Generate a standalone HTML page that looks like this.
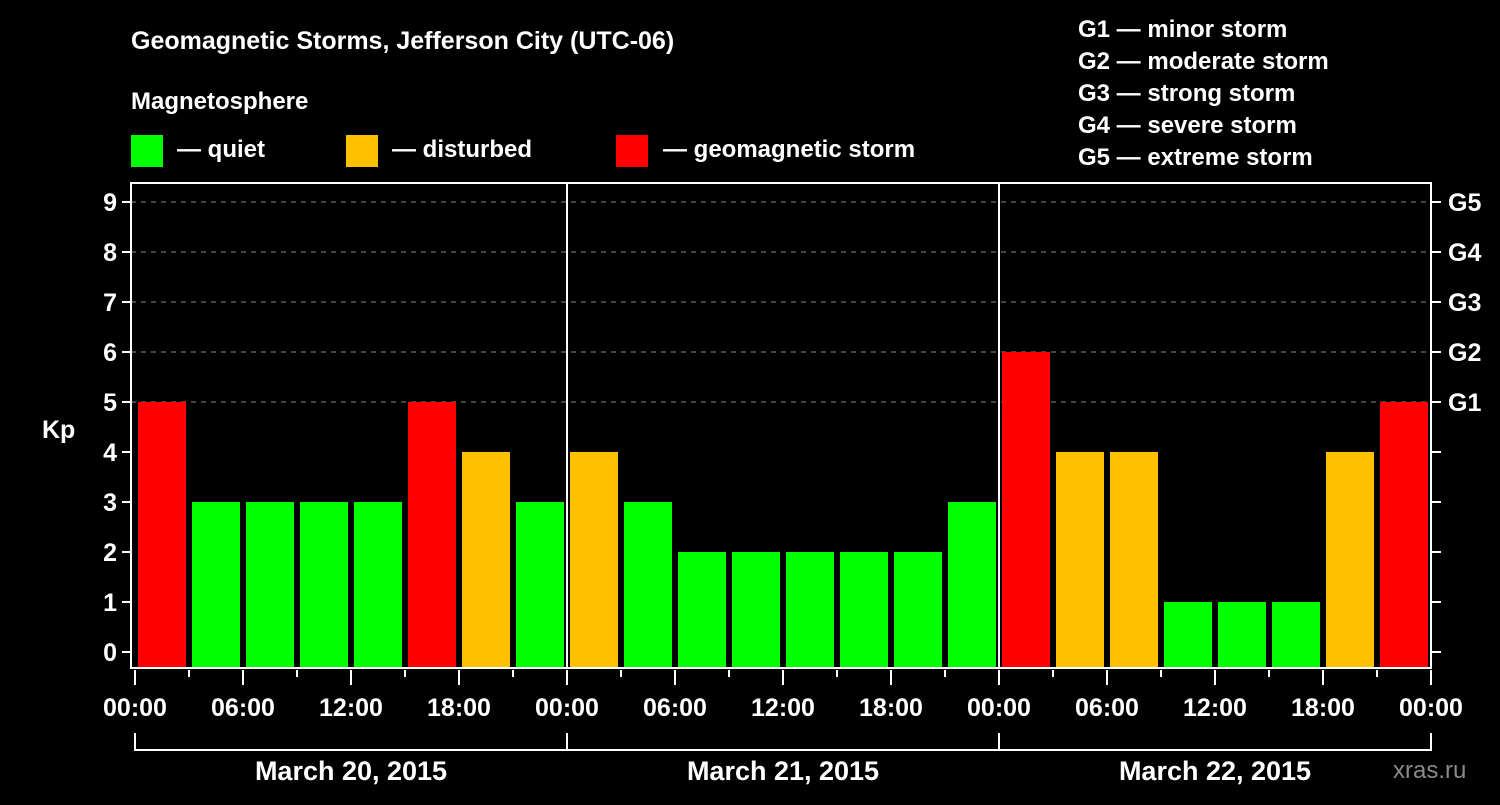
<!DOCTYPE html>
<html><head><meta charset="utf-8"><style>
body{margin:0;background:#000;width:1500px;height:800px;overflow:hidden}
svg text{font-family:"Liberation Sans",sans-serif;font-weight:bold;fill:#fff}
</style></head><body>
<svg id="c" width="1500" height="800">
<rect width="1500" height="800" fill="#000"/>
<text x="131" y="49" font-size="25">Geomagnetic Storms, Jefferson City (UTC-06)</text>
<text x="131" y="109" font-size="24">Magnetosphere</text>
<g><rect x="131" y="135" width="32" height="32" fill="#00ff00"/><text x="177" y="157" font-size="24">— quiet</text></g>
<g><rect x="346" y="135" width="32" height="32" fill="#ffc000"/><text x="392" y="157" font-size="24">— disturbed</text></g>
<g><rect x="616" y="135" width="32" height="32" fill="#ff0000"/><text x="663" y="157" font-size="24">— geomagnetic storm</text></g>
<g font-size="24">
<text x="1078" y="37">G1 — minor storm</text>
<text x="1078" y="69">G2 — moderate storm</text>
<text x="1078" y="101">G3 — strong storm</text>
<text x="1078" y="133">G4 — severe storm</text>
<text x="1078" y="165">G5 — extreme storm</text>
</g>
<text x="42" y="438" font-size="25">Kp</text>
<text x="1393" y="778" font-size="24" fill="#888" style="fill:#8a8a8a;font-weight:normal">xras.ru</text>
<g id="grid"></g><g id="bars"></g><g id="axes"></g>
</svg>
<script>
const days=["March 20, 2015","March 21, 2015","March 22, 2015"];
const kp=[5,3,3,3,3,5,4,3, 4,3,2,2,2,2,2,3, 6,4,4,1,1,1,4,5];
const yTicks=[0,1,2,3,4,5,6,7,8,9];
const gLabels=["G1","G2","G3","G4","G5"];
const xLabels=["00:00","06:00","12:00","18:00"];
const NS="http://www.w3.org/2000/svg";
const X0=135,DAYW=432,L=131,R=1431,T=183,B=668;
const x=h=>X0+h*DAYW/24;
const y=v=>652-50*v;
function mk(p,t,a){const e=document.createElementNS(NS,t);for(const k in a)e.setAttribute(k,a[k]);p.appendChild(e);return e;}
const g=document.getElementById('grid'),b=document.getElementById('bars'),ax=document.getElementById('axes');
yTicks.forEach(v=>{
 if(v>=5){const l=mk(g,'line',{x1:L,x2:R,y1:y(v),y2:y(v),stroke:'#888','stroke-dasharray':'5,5','stroke-width':1});
 
 }
 mk(ax,'line',{x1:L-9,x2:L,y1:y(v),y2:y(v),stroke:'#fff','stroke-width':2});
 mk(ax,'line',{x1:R,x2:R+10,y1:y(v),y2:y(v),stroke:'#fff','stroke-width':2});
 const t=mk(ax,'text',{x:L-14,y:y(v)+9,'font-size':25,'text-anchor':'end'});t.textContent=v;
 
 
});
gLabels.forEach((s,i)=>{const t=mk(ax,'text',{x:1448,y:y(5+i)+9,'font-size':25});t.textContent=s;
 
 });
const col=v=>v>=5?'#ff0000':v>=4?'#ffc000':'#00ff00';
kp.forEach((v,i)=>{const r=mk(b,'rect',{x:x(i*3)+3,y:y(v),width:48,height:B-y(v),fill:col(v)});
 
 });
mk(ax,'rect',{x:L,y:T,width:R-L,height:B-T,fill:'none',stroke:'#fff','stroke-width':2});
for(let d=1;d<days.length;d++)mk(ax,'line',{x1:x(24*d),x2:x(24*d),y1:T,y2:B,stroke:'#fff','stroke-width':2});
for(let h=0;h<=24*days.length;h+=3){
 const long=h%6===0;
 mk(ax,'line',{x1:x(h),x2:x(h),y1:B+2,y2:B+(long?17:9),stroke:'#fff','stroke-width':2});
 if(long){const t=mk(ax,'text',{x:x(h),y:716,'font-size':25,'text-anchor':'middle'});t.textContent=xLabels[(h%24)/6];
 
 }
}
days.forEach((d,i)=>{
 mk(ax,'path',{d:`M${x(24*i)},733V750H${x(24*(i+1))}V733`,fill:'none',stroke:'#fff','stroke-width':2});
 const t=mk(ax,'text',{x:x(24*i+12),y:780,'font-size':27,'text-anchor':'middle'});t.textContent=d;
 
 
});
</script>
</body></html>
